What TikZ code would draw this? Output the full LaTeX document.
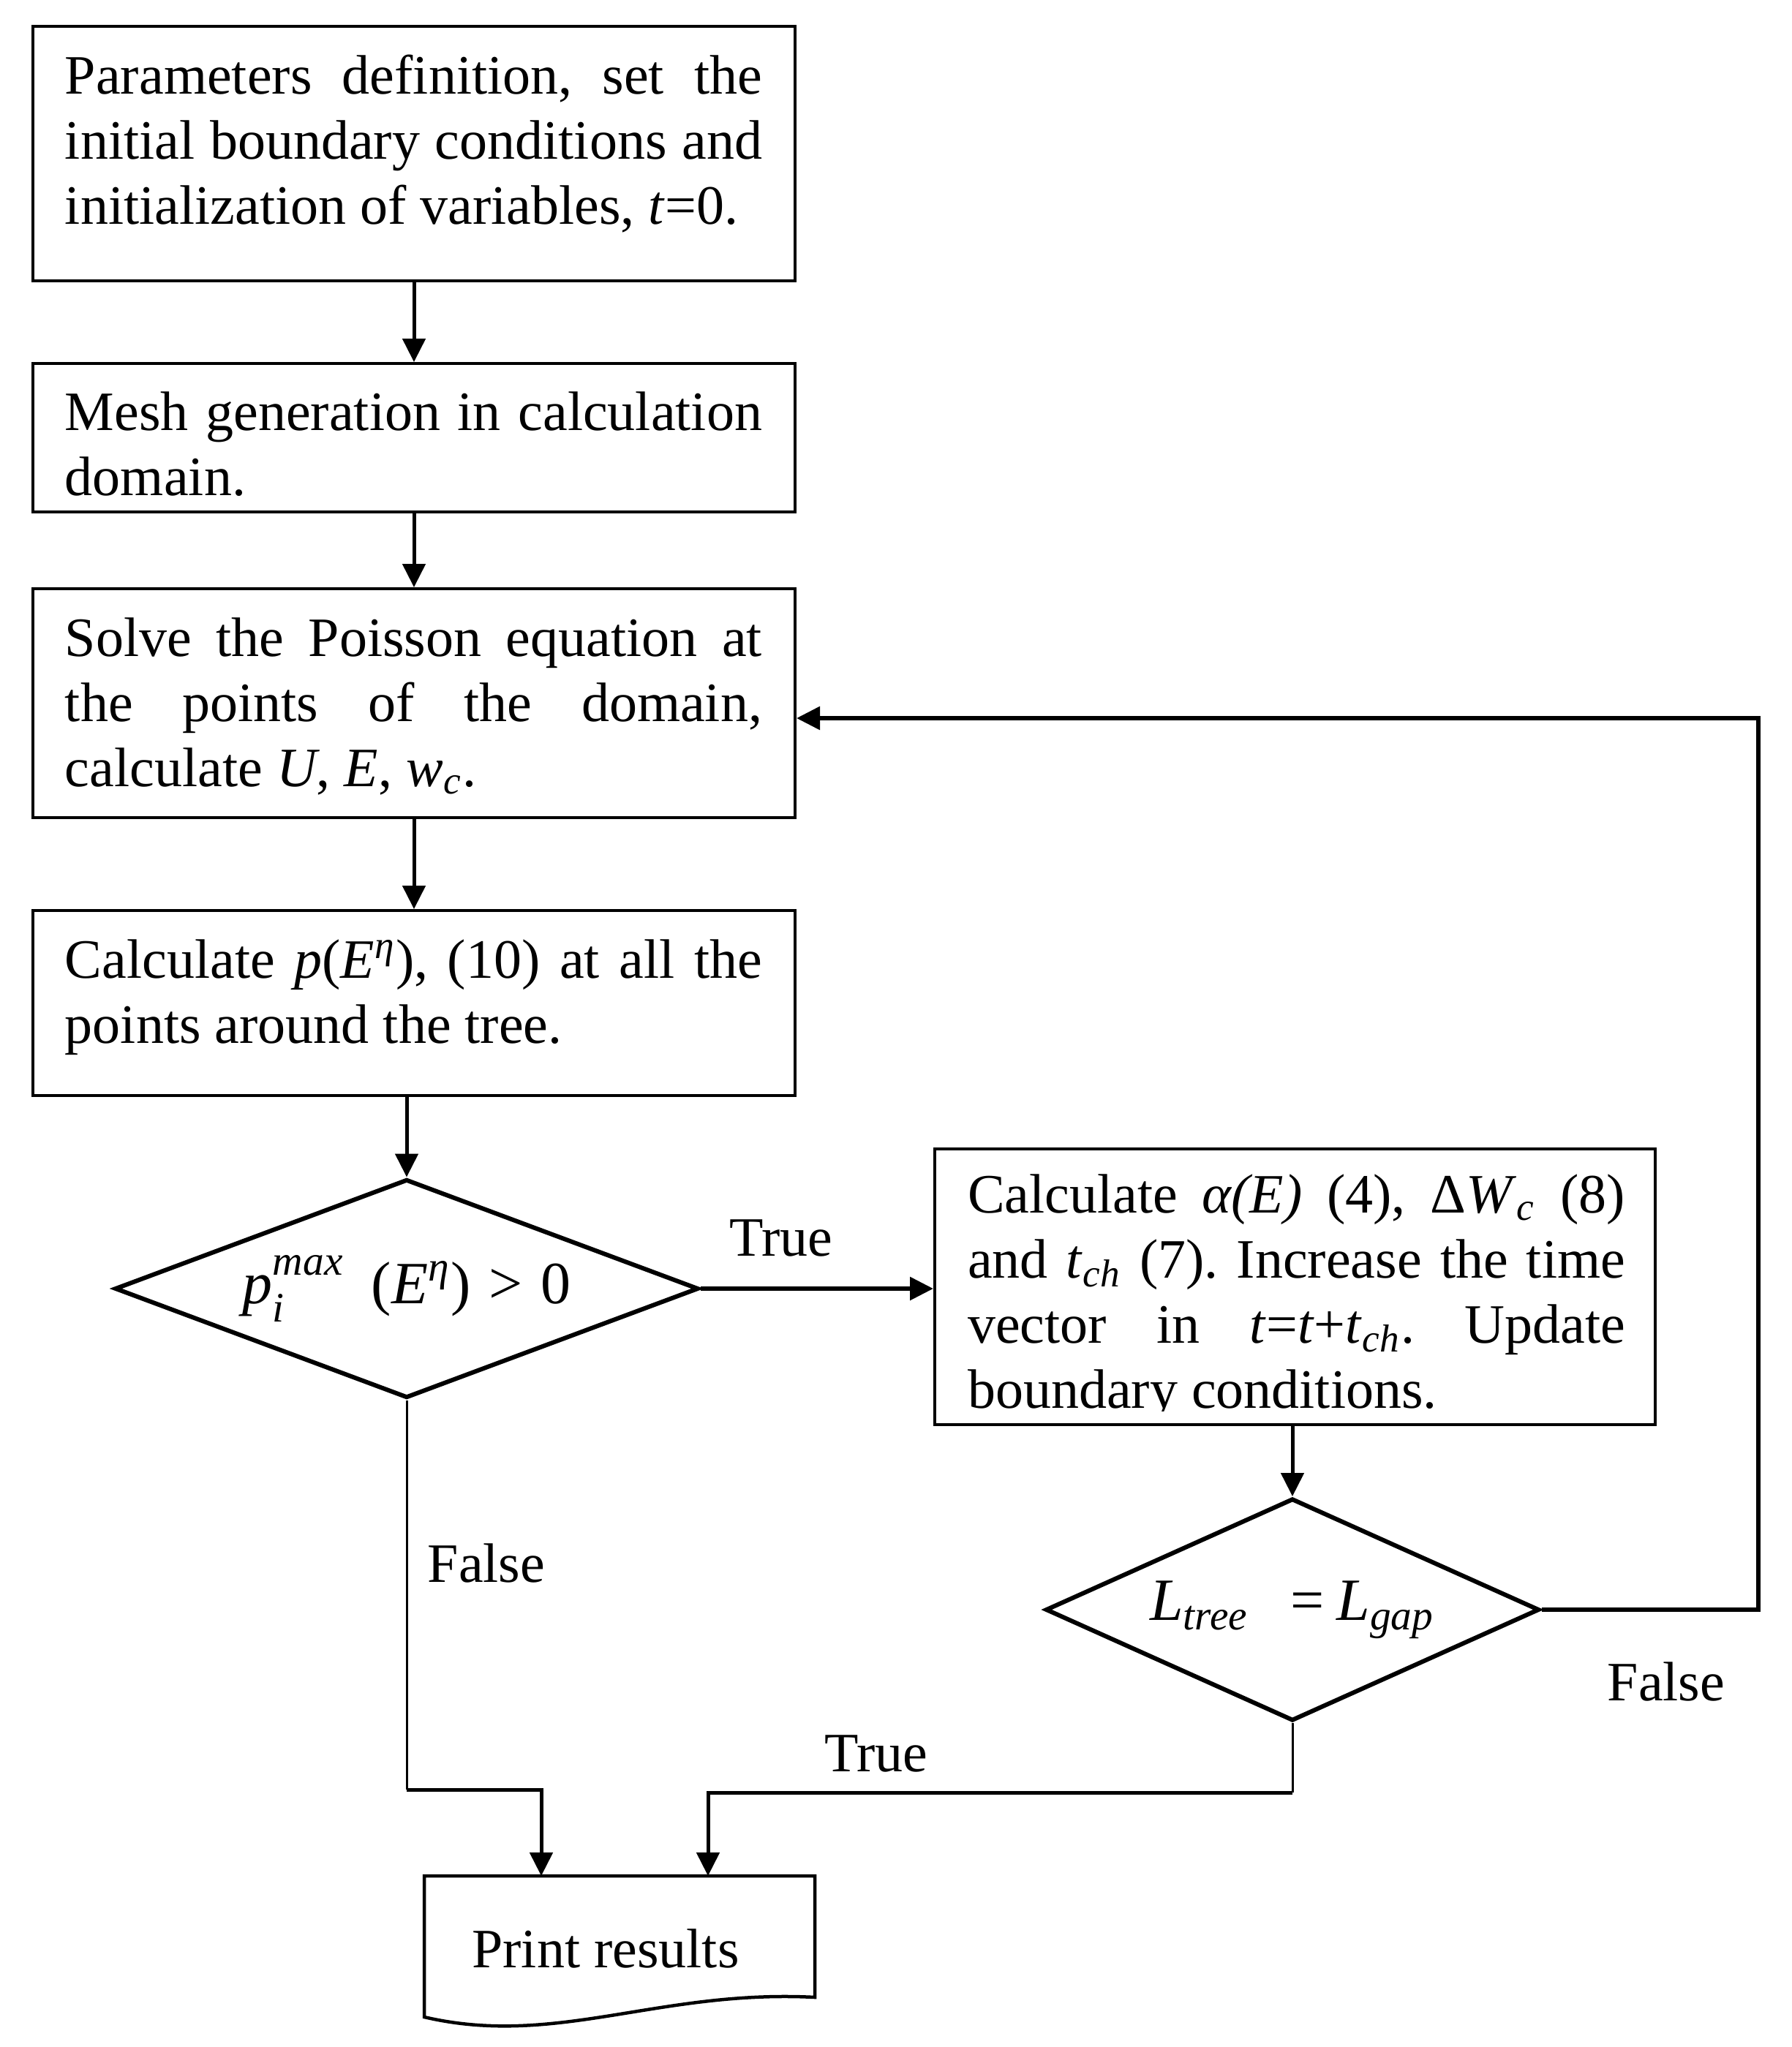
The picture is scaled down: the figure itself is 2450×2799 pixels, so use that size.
\documentclass[tikz,border=0pt]{standalone}
\usepackage{fontspec}
\setmainfont{Liberation Serif}
\usetikzlibrary{arrows.meta,shapes.geometric}
\newcommand\itx[1]{\textit{#1}}
\newcommand\fsz{\fontsize{15.2pt}{17.8pt}\selectfont}
\newcommand\msz{\fontsize{16.4pt}{18pt}\selectfont}
\hyphenpenalty=10000
\exhyphenpenalty=10000
\frenchspacing
\begin{document}
\begin{tikzpicture}[x=0.2pt,y=-0.2pt,
  box/.style={draw, rectangle, line width=0.8pt, inner sep=0pt, minimum width=208.4pt},
  txt/.style={anchor=base west, inner sep=0pt, text width=190.6pt, align=justify, font=\fsz},
  dec/.style={draw, diamond, line width=1.2pt, inner sep=0pt, font=\msz},
  lab/.style={anchor=base, inner sep=0pt, font=\fsz},
  conn/.style={line width=1pt, -{Triangle[length=6.4pt,width=6.2pt]}},
  thin/.style={line width=0.6pt}]
\useasboundingbox (0,0) rectangle (2450,2799);

% boxes
\node[box, minimum height=69.6pt] (b1) at (566,210) {};
\node[box, minimum height=40.6pt] (b2) at (566,598.5) {};
\node[box, minimum height=62.6pt] (b3) at (566,961.5) {};
\node[box, minimum height=50.6pt] (b4) at (566,1371.5) {};
\node[box, minimum width=197pt, minimum height=75.4pt] (b5) at (1770.5,1759.5) {};

% box texts
\node[txt] (t1) at (88,128) {Parameters definition, set the\linebreak initial boundary conditions and\linebreak initialization of variables, \itx{t}=0.};
\node[txt] (t2) at (88,588) {Mesh generation in calculation\linebreak domain.};
\node[txt] (t3) at (88,897) {Solve the Poisson equation at\linebreak the points of the domain,\linebreak calculate \itx{U}, \itx{E}, \itx{w}\textsubscript{\itx{c}}.};
\node[txt] (t4) at (88,1337) {Calculate \itx{p}(\itx{E}\textsuperscript{\itx{η}}), (10) at all the\linebreak points around the tree.};
\begin{scope}
\clip (1280,1573) rectangle (2261,1929);
\node[txt, text width=179.8pt] (t5) at (1322,1658) {Calculate \itx{α(E)} (4), Δ\itx{W}\textsubscript{\itx{c}} (8)\linebreak and \itx{t}\textsubscript{\itx{ch}} (7). Increase the time\linebreak vector in \itx{t}=\itx{t}+\itx{t}\textsubscript{\itx{ch}}. Update\linebreak boundary conditions.};
\end{scope}

% decisions
\node[dec, minimum width=159.6pt, minimum height=59.8pt, aspect=2.67] (d1) at (556,1762)
  {\itx{p}\rlap{\raisebox{-0.15em}{\textsubscript{\itx{i}}}}\raisebox{0.1em}{\textsuperscript{\itx{max}}}\hspace{0.45em}(\itx{E}\textsuperscript{\itx{η}})\hspace{0.3em}>\hspace{0.3em}0};
\node[dec, minimum width=135pt, minimum height=60.8pt, aspect=2.22] (d2) at (1767,2201)
  {\itx{L}\textsubscript{\itx{tree}}\hspace{0.7em}=\hspace{0.2em}\itx{L}\textsubscript{\itx{gap}}};

% print results (document shape)
\draw[line width=0.9pt] (580,2758) -- (580,2565) -- (1114,2565) -- (1114,2731)
  .. controls (900,2720) and (760,2800) .. (580,2758) -- cycle;
\node[lab] (pr) at (828,2690) {Print results};

% labels
\node[lab] (lt1) at (1068,1717) {True};
\node[lab] (lf1) at (665,2163) {False};
\node[lab] (lt2) at (1198,2422) {True};
\node[lab] (lf2) at (2278,2325) {False};

% helper coordinates
\coordinate (pin1) at (740,2565);
\coordinate (pin2) at (968,2565);
\coordinate (fL) at (556,2447);
\coordinate (tR) at (1767,2451);
\coordinate (loopR) at (2404,982);

% connectors
\draw[conn] (b1.south) -- (b2.north);
\draw[conn] (b2.south) -- (b3.north);
\draw[conn] (b3.south) -- (b4.north);
\draw[conn] (b4.south -| d1.north) -- (d1.north);
\draw[conn, line width=1.2pt] (d1.east) -- (d1.east -| b5.west);
\draw[conn] (b5.south -| d2.north) -- (d2.north);
\draw[conn, line width=1.2pt] (d2.east) -| (loopR) -- (loopR -| b3.east);
\draw[thin] (d1.south) -- (fL);
\draw[conn] (fL) -| (pin1);
\draw[thin] (d2.south) -- (tR);
\draw[conn] (tR) -| (pin2);
\end{tikzpicture}
\end{document}
